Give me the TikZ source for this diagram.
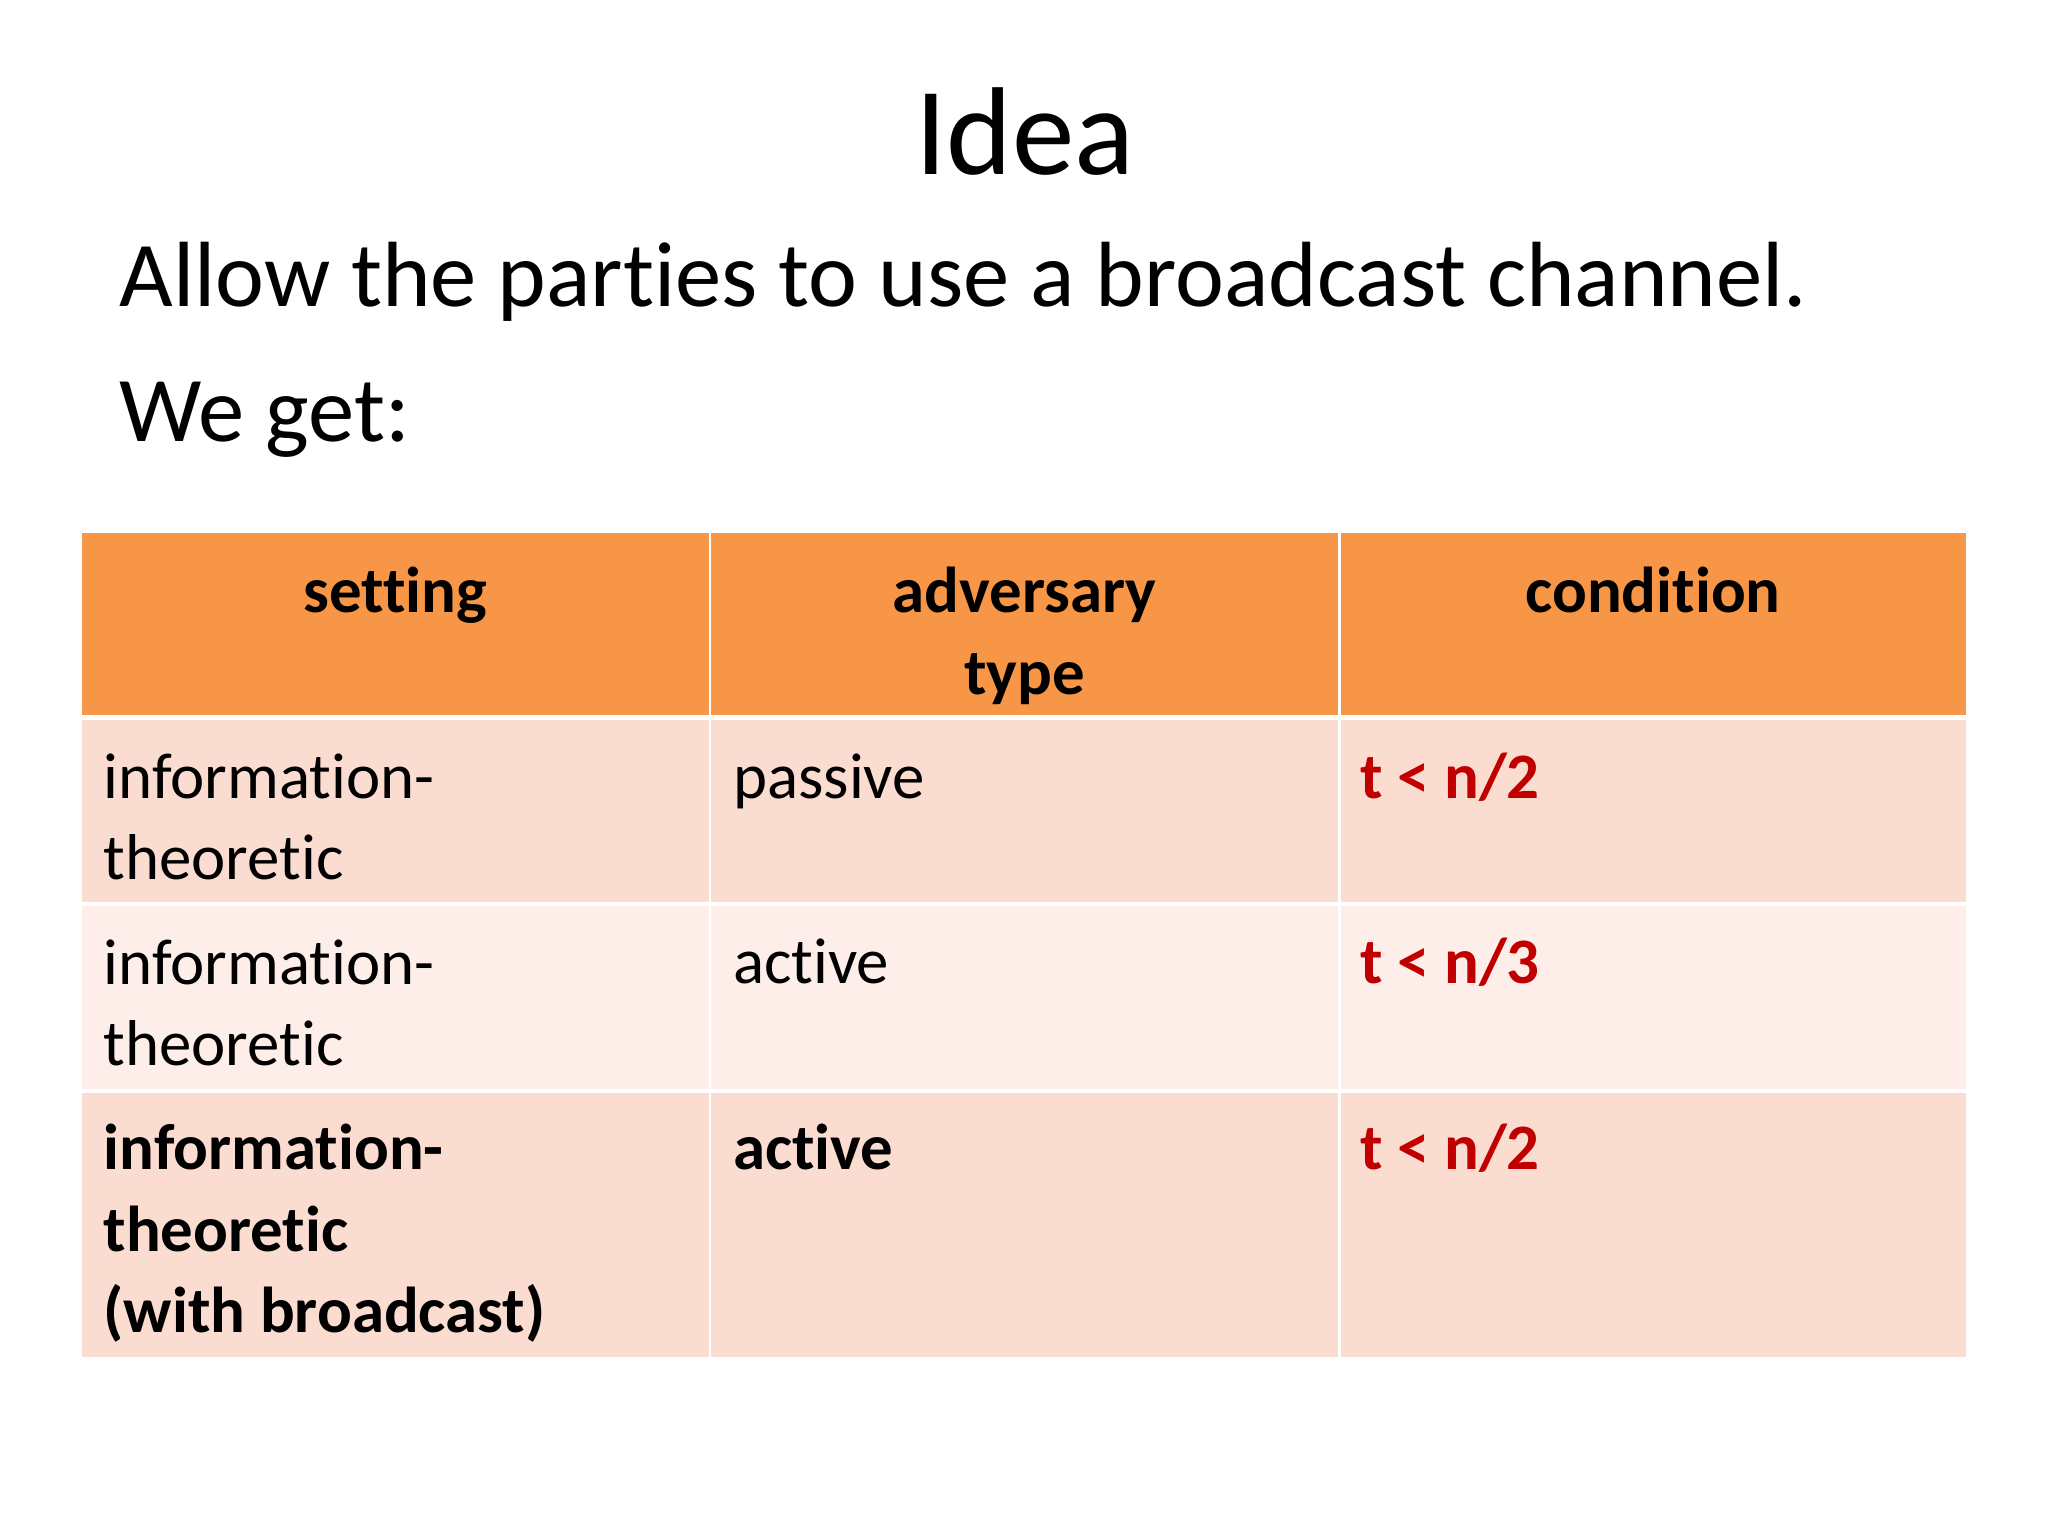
\documentclass[tikz,border=0pt]{standalone}
\usepackage{fontspec}
\setmainfont{Carlito}[Ligatures={NoCommon,NoDiscretionary}]
\usetikzlibrary{positioning}
\definecolor{headorange}{HTML}{F79646}
\definecolor{rowdark}{HTML}{FBDCD0}
\definecolor{rowlight}{HTML}{FDEEE9}
\definecolor{condred}{HTML}{C00000}
\tikzset{
    cell/.style={anchor=north west, inner sep=0pt, outer sep=0pt},
    celltext/.style={anchor=base west, inner sep=0pt, font=\fontsize{14pt}{17.6pt}\selectfont, align=left},
    headtext/.style={anchor=base, inner sep=0pt, font=\fontsize{14pt}{17.6pt}\selectfont\bfseries, align=center},
    condtext/.style={celltext, text=condred, font=\fontsize{14pt}{17.6pt}\selectfont\bfseries}
}
\begin{document}
\begin{tikzpicture}[x=0.01cm, y=-0.01cm]
        \useasboundingbox[fill=white] (0,0) rectangle (1555,1166);
        % Title and text
        \node[font=\fontsize{27pt}{32pt}\selectfont] (title) at (778,100) {Idea};
        \node[anchor=base west, inner sep=0pt, font=\fontsize{20pt}{24pt}\selectfont] (line-1) at (90,233) {Allow the parties to use a broadcast channel.};
        \node[anchor=base west, inner sep=0pt, font=\fontsize{20pt}{24pt}\selectfont] (line-2) at (90,335) {We get:};
        % Cells
        \foreach \x/\w [count=\c] in {62/476, 540/476, 1018/475} {
            \node[cell, fill=headorange, minimum width=\w*0.01cm, minimum height=1.38cm] (cell-0-\c) at (\x,405) {};
            \node[cell, fill=rowdark, minimum width=\w*0.01cm, minimum height=1.38cm] (cell-1-\c) at (\x,547) {};
            \node[cell, fill=rowlight, minimum width=\w*0.01cm, minimum height=1.39cm] (cell-2-\c) at (\x,688) {};
            \node[cell, fill=rowdark, minimum width=\w*0.01cm, minimum height=2.00cm] (cell-3-\c) at (\x,830) {};
        }
        % Header
        \node[headtext] (head-1) at (300,465) {setting};
        \node[headtext] (head-2) at (778,527) {adversary\\type};
        \node[headtext] (head-3) at (1255,465) {condition};
        % Rows
        \node[celltext] (set-1) at (78,668) {information-\\theoretic};
        \node[celltext] (adv-1) at (556,606) {passive};
        \node[condtext] (cond-1) at (1032,606) {t < n/2};
        \node[celltext] (set-2) at (78,809) {information-\\theoretic};
        \node[celltext] (adv-2) at (556,747) {active};
        \node[condtext] (cond-2) at (1032,747) {t < n/3};
        \node[celltext, font=\fontsize{14pt}{17.6pt}\selectfont\bfseries] (set-3) at (78,1012) {information-\\theoretic\\(with broadcast)};
        \node[celltext, font=\fontsize{14pt}{17.6pt}\selectfont\bfseries] (adv-3) at (556,888) {active};
        \node[condtext] (cond-3) at (1032,888) {t < n/2};
    \end{tikzpicture}
\end{document}
